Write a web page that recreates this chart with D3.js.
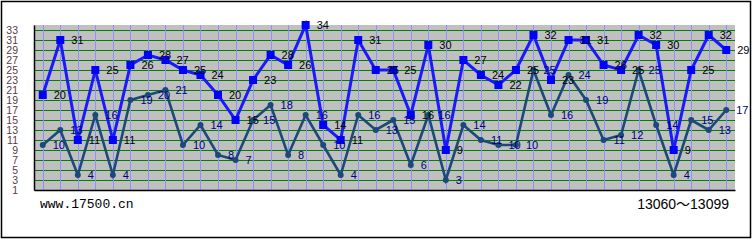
<!DOCTYPE html>
<html>
<head>
<meta charset="utf-8">
<script src="https://cdn.jsdelivr.net/npm/d3@7"></script>
<style>
  body { margin: 0; background: #fff; }
  svg { display: block; }
</style>
</head>
<body>
<script>
// ---- data ----
const issues = d3.range(13060, 13100);           // 40 draws, 13060～13099
const blueValues = [20,31,11,25,11,26,28,27,25,24,20,15,23,28,26,34,14,11,31,25,25,16,30,9,27,24,22,25,32,23,31,31,26,25,32,30,9,25,32,29];
const tealValues = [10,13,4,16,4,19,20,21,10,14,8,7,15,18,8,16,10,4,16,13,15,6,16,3,14,11,10,10,25,16,24,19,11,12,25,14,4,15,13,17];
const yTickLabels = [1,3,5,7,9,11,13,15,17,19,21,23,25,27,29,31,33];
const siteText = "www.17500.cn";
const rangeText = "13060～13099";

(function () {
// ---- layout ----
const W = 755, H = 240;
const pL = 34, pR = 735, pT = 25, pB = 190;

const svg = d3.select("body").append("svg").attr("width", W).attr("height", H);

// outer border
svg.append("rect").attr("x", 1.5).attr("y", 1.5).attr("width", 749).attr("height", 236)
  .attr("fill", "#fff").attr("stroke", "#000").attr("stroke-width", 1.5);

const x = d3.scaleBand().domain(issues).range([pL, pR]);
const cx = d => x(d) + x.bandwidth() / 2;
const y = d3.scaleLinear().domain([1, 34]).range([pB, pT]);

// plot background
svg.append("rect").attr("x", pL).attr("y", pT).attr("width", pR - pL).attr("height", pB - pT)
  .attr("fill", "#c0c0c0");

// green horizontal grid
svg.append("g").selectAll("line").data(yTickLabels.filter(v => v > 1)).join("line")
  .attr("x1", pL).attr("x2", pR)
  .attr("y1", d => Math.round(y(d)) + 0.5).attr("y2", d => Math.round(y(d)) + 0.5)
  .attr("stroke", "#008000").attr("stroke-width", 1.2);

// blue vertical grid
svg.append("g").selectAll("line").data(issues).join("line")
  .attr("x1", d => Math.round(cx(d)) + 0.5).attr("x2", d => Math.round(cx(d)) + 0.5)
  .attr("y1", pT).attr("y2", pB)
  .attr("stroke", "#9090ff").attr("stroke-width", 1);

// axes
const yAxis = d3.axisLeft(y).tickValues(yTickLabels).tickSize(0).tickSizeOuter(0).tickPadding(16);
const gy = svg.append("g").attr("transform", `translate(${pL},0)`).call(yAxis);
gy.select(".domain").attr("stroke", "#000").attr("stroke-width", 1.5);
gy.selectAll("text").attr("font-family", "Liberation Sans, Arial, sans-serif")
  .attr("font-size", 10.5).attr("fill", "#5a3a48");

const xAxis = d3.axisBottom(x).tickValues([]).tickSizeOuter(0);
const gx = svg.append("g").attr("transform", `translate(0,${pB})`).call(xAxis);
gx.select(".domain").attr("stroke", "#000").attr("stroke-width", 1.5);

// series
const tealPts = issues.map((d, i) => ({ k: d, v: tealValues[i] }));
const bluePts = issues.map((d, i) => ({ k: d, v: blueValues[i] }));
const line = d3.line().x(d => cx(d.k)).y(d => y(d.v));

svg.append("path").datum(tealPts).attr("d", line)
  .attr("fill", "none").attr("stroke", "#1c4a78").attr("stroke-width", 2.6);
svg.append("g").selectAll("circle").data(tealPts).join("circle")
  .attr("cx", d => cx(d.k)).attr("cy", d => y(d.v)).attr("r", 3)
  .attr("fill", "#1c4a78");

svg.append("path").datum(bluePts).attr("d", line)
  .attr("fill", "none").attr("stroke", "#1a1aff").attr("stroke-width", 3);
svg.append("g").selectAll("rect").data(bluePts).join("rect")
  .attr("x", d => cx(d.k) - 4).attr("y", d => y(d.v) - 4)
  .attr("width", 8).attr("height", 8).attr("fill", "#0000ff");

// value labels
svg.append("g").selectAll("text").data(tealPts).join("text")
  .attr("x", d => cx(d.k) + 10).attr("y", d => y(d.v)).attr("dy", "0.38em")
  .attr("font-family", "Liberation Sans, Arial, sans-serif").attr("font-size", 11)
  .attr("fill", "#000080").text(d => d.v);
svg.append("g").selectAll("text").data(bluePts).join("text")
  .attr("x", d => cx(d.k) + 11).attr("y", d => y(d.v)).attr("dy", "0.38em")
  .attr("font-family", "Liberation Sans, Arial, sans-serif").attr("font-size", 11)
  .attr("fill", "#000").text(d => d.v);

// footer texts
svg.append("text").attr("x", 40).attr("y", 208)
  .attr("font-family", "Liberation Mono, Courier New, monospace").attr("font-size", 13)
  .attr("fill", "#000").text(siteText);
svg.append("text").attr("x", 729).attr("y", 209).attr("text-anchor", "end")
  .attr("font-family", "Liberation Sans, Arial, 'Noto Sans CJK SC', sans-serif").attr("font-size", 14)
  .attr("fill", "#000").text(rangeText);
})();
</script>
</body>
</html>
